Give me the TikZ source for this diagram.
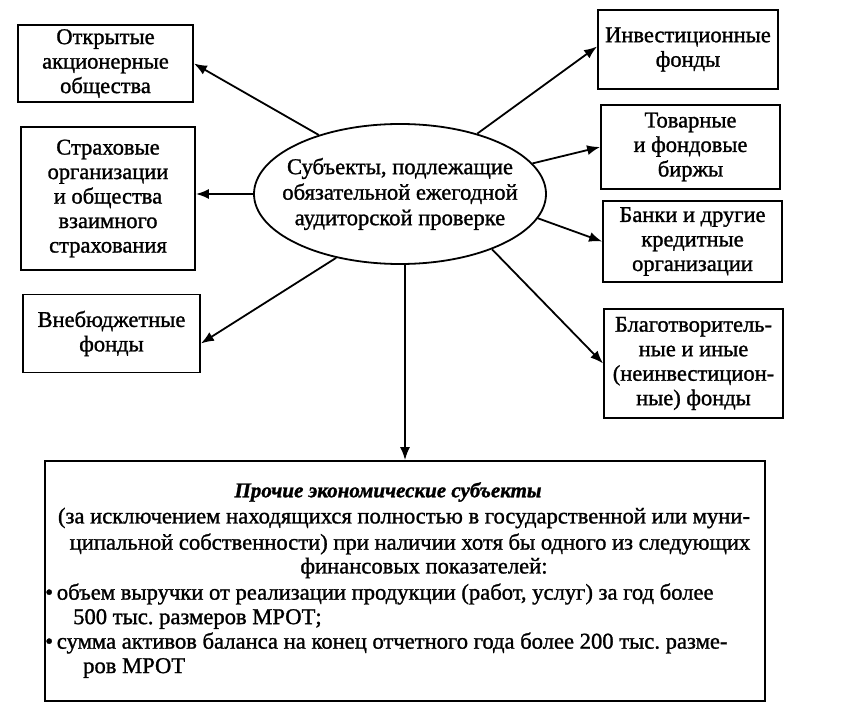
\documentclass[tikz,border=0pt]{standalone}
\usepackage{fontspec}
\setmainfont{Liberation Serif}[FakeBold=1.2]
\usetikzlibrary{arrows.meta,shapes.geometric}
\begin{document}
\frenchspacing
\begin{tikzpicture}[x=1pt,y=-1pt,
  box/.style={draw,line width=1.8pt,align=center,inner sep=0pt,
    font=\fontsize{22.5}{24.5}\selectfont},
  ellbox/.style={draw,ellipse,line width=1.8pt,align=center,inner xsep=-22pt,inner ysep=0pt,
    font=\fontsize{22.6}{25.5}\selectfont},
  arr/.style={line width=1.8pt,-{Latex[length=13pt,width=10pt]}},
  txt/.style={inner sep=0pt,font=\fontsize{22.6}{25}\selectfont},
  ttl/.style={inner sep=0pt,font=\fontsize{21}{25}\selectfont\bfseries\itshape}]
\useasboundingbox (0,0) rectangle (858,708);
\fill[white] (0,0) rectangle (858,708);
% central ellipse
\node[ellbox,minimum width=292pt,minimum height=140pt] (ell) at (400,194)
  {Субъекты, подлежащие\\обязательной ежегодной\\аудиторской проверке};
% left boxes
\node[box,minimum width=175pt,minimum height=77pt] (b1) at (105.5,63.5)
  {Открытые\\акционерные\\общества};
\node[box,minimum width=174pt,minimum height=143pt] (b2) at (108,198.5)
  {Страховые\\организации\\и общества\\взаимного\\страхования};
\node[box,minimum width=177pt,minimum height=78pt] (b3) at (111.5,333.5)
  {Внебюджетные\\фонды};
% right boxes
\node[box,minimum width=180pt,minimum height=79pt] (r1) at (688,49.5)
  {Инвестиционные\\фонды};
\node[box,minimum width=179pt,minimum height=84pt] (r2) at (690.5,147)
  {Товарные\\и фондовые\\биржы};
\node[box,minimum width=179pt,minimum height=81pt] (r3) at (692.5,241.5)
  {Банки и другие\\кредитные\\организации};
\node[box,minimum width=179pt,minimum height=109pt] (r4) at (693.5,363.5)
  {Благотвори\-тель-\\ные и иные\\(неинвестицион-\\ные) фонды};
% bottom box
\node[draw,line width=1.8pt,inner sep=0pt,minimum width=720pt,minimum height=240pt] (bot) at (405,581) {};
\node[ttl] (t0) at (388,492) {Прочие экономические субъекты};
\node[txt] (t1) at (404,518) {(за исключением находящихся полностью в государственной или муни-};
\node[txt] (t2) at (410,544) {ципальной собственности) при наличии хотя бы одного из следующих};
\node[txt] (t3) at (424,568) {финансовых показателей:};
\node[txt,anchor=west] (t4) at (45,594) {•\,объем выручки от реализации продукции (работ, услуг) за год более};
\node[txt,anchor=west] (t5) at (73,619) {500 тыс. размеров МРОТ;};
\node[txt,anchor=west] (t6) at (45,643) {•\,сумма активов баланса на конец отчетного года более 200 тыс. разме-};
\node[txt,anchor=west] (t7) at (83,668) {ров МРОТ};
% connectors
\draw[arr] (ell.144) -- (b1.east);
\draw[arr] (ell.west) -- (b2.east |- ell.west);
\draw[arr] (ell.225) -- ([yshift=-10pt]b3.east);
\draw[arr] (ell.38) -- ([yshift=3pt]r1.west);
\draw[arr] (ell.13) -- (r2.west);
\draw[arr] (ell.350) -- (r3.west);
\draw[arr] (ell.329) -- (r4.west);
\draw[arr] (bot.north |- ell.south) -- (bot.north);
\end{tikzpicture}
\end{document}
